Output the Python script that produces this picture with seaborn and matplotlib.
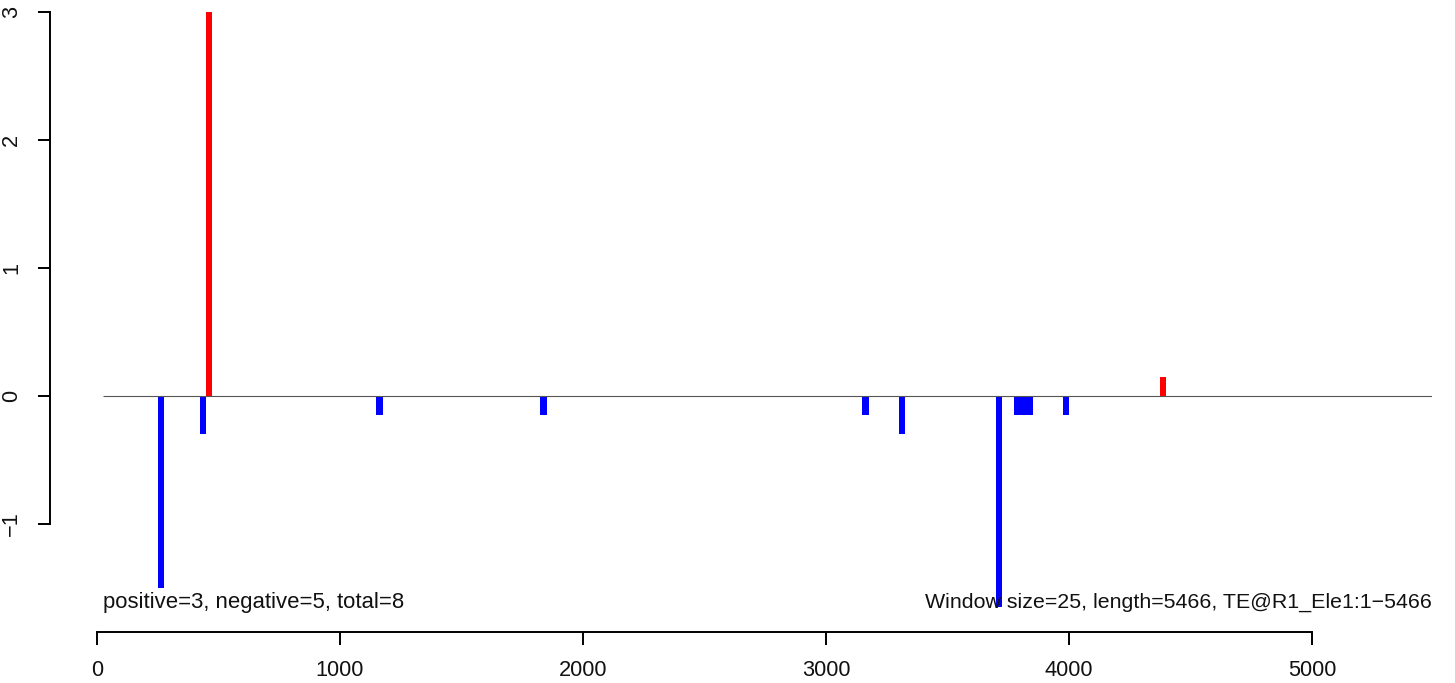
import pandas as pd
import seaborn as sns
import matplotlib.pyplot as plt

# window centres (bp), window size 25
positions = [262.5, 437.5, 462.5, 1162.5, 1837.5, 3162.5, 3312.5,
             3712.5, 3787.5, 3812.5, 3837.5, 3987.5, 4387.5]
scores = [-1.5, -0.3, 3.0, -0.15, -0.15, -0.15, -0.3,
          -1.65, -0.15, -0.15, -0.15, -0.15, 0.15]
xticks = [0, 1000, 2000, 3000, 4000, 5000]
yticks = [-1, 0, 1, 2, 3]
left_note = 'positive=3, negative=5, total=8'
right_note = 'Window size=25, length=5466, TE@R1_Ele1:1\u22125466'

df = pd.DataFrame({'pos': positions, 'score': scores})
df['sign'] = ['pos' if s > 0 else 'neg' for s in df.score]

sns.set_style('white')
plt.rcParams['font.family'] = ['Liberation Sans', 'DejaVu Sans']

fig = plt.figure(figsize=(14.55, 6.83), dpi=100)
ax = fig.add_axes([97 / 1455, 51 / 683, 1335 / 1455, 632 / 683])

sns.barplot(data=df, x='pos', y='score', hue='sign', palette={'pos': '#FF0000', 'neg': '#0000FF'},
            native_scale=True, width=1, dodge=False, errorbar=None, legend=False,
            saturation=1, linewidth=0, ax=ax)

x_lo, x_hi = 24.7, 5494
ax.hlines(0, x_lo, x_hi, color='#555555', lw=0.8, zorder=3)

ax.set_xlim(0, x_hi)
ax.set_ylim(-1.84375, 3.09375)
ax.set(xlabel=None, ylabel=None)

ax.text(x_lo, -1.656, left_note, ha='left', va='baseline', fontsize=15.9, color='#111111')
ax.text(x_hi, -1.656, right_note, ha='right', va='baseline', fontsize=15.4, color='#111111')

for s in ['top', 'right']:
    ax.spines[s].set_visible(False)
ax.spines['left'].set_position(('outward', 33.8))
ax.spines['left'].set_bounds(-1, 3)
ax.spines['bottom'].set_bounds(0, 5000)
for s in ['left', 'bottom']:
    ax.spines[s].set_color('black')
    ax.spines[s].set_linewidth(1.4)

ax.set_xticks(xticks)
ax.set_xticklabels([str(t) for t in xticks])
ax.set_yticks(yticks)
ax.set_yticklabels(['\u22121', '0', '1', '2', '3'])
ax.tick_params(axis='both', direction='out', length=9, width=1.4, color='black',
               labelsize=15.7, labelcolor='#111111', bottom=True, left=True)
ax.tick_params(axis='x', pad=11)
ax.tick_params(axis='y', pad=11, labelrotation=90)
for lab in ax.get_yticklabels():
    lab.set_va('center')

plt.savefig('out.png', dpi=100)
